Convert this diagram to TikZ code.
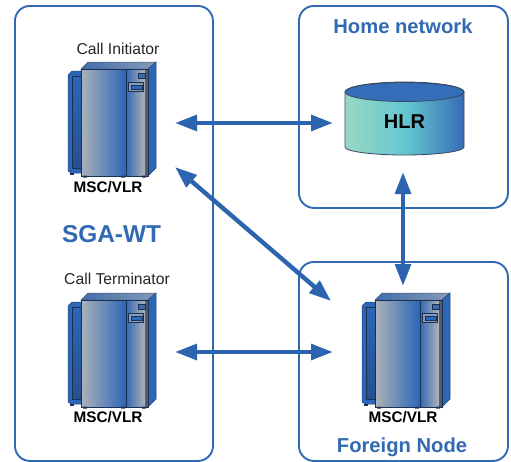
\documentclass[tikz,border=0pt]{standalone}
\usepackage{fontspec}
\setmainfont{Liberation Sans}
\usetikzlibrary{arrows.meta}
\definecolor{boxblue}{RGB}{50,106,178}
\definecolor{arrowblue}{RGB}{44,100,176}
\definecolor{srvblue}{RGB}{44,102,182}
\definecolor{srvgray}{RGB}{172,178,186}
\definecolor{srvdark}{RGB}{28,48,84}
\tikzset{
  x=1pt,y=-1pt,
  region/.style={draw=boxblue,line width=1.9pt,rounded corners=15pt,fill=white},
  title/.style={text=boxblue,font=\bfseries\fontsize{20.2}{24}\selectfont,inner sep=0pt},
  sgatitle/.style={text=boxblue,font=\bfseries\fontsize{24.4}{28}\selectfont,inner sep=0pt},
  role/.style={text=black!85,font=\fontsize{15.7}{18}\selectfont,inner sep=0pt},
  msc/.style={text=black,font=\bfseries\fontsize{15.3}{18}\selectfont,inner sep=0pt},
  hlrtext/.style={text=black,font=\bfseries\fontsize{20}{24}\selectfont,inner sep=0pt},
  link/.style={draw=arrowblue,line width=4.4pt,{Stealth[length=22pt,width=15.5pt,inset=0pt]}-{Stealth[length=22pt,width=15.5pt,inset=0pt]}},
  server/.pic={
    % rear cabinet
    \path[draw=srvblue!70!black,line width=.5pt,fill=srvblue] (0,2) -- (-9,2) -- (-13,6) -- (-13,102) -- (-10,104) -- (0,104) -- cycle;
    \path[draw=srvdark,line width=.5pt,top color=srvblue,bottom color=srvblue!60!srvdark] (-9,7) rectangle (0,99);
    \path[fill=srvdark] (-11,103.5) rectangle (-7,105.5);
    % top and side
    \path[draw=srvdark!80,line width=.5pt,left color=srvblue!75!gray,right color=srvgray!70!srvblue] (0,0) -- (7,-7) -- (75,-7) -- (67,0) -- cycle;
    \path[draw=srvblue!70!black,line width=.5pt,fill=srvblue] (67,0) -- (75,-7) -- (75,99) -- (67,107) -- cycle;
    % front
    \path[left color=srvgray,right color=srvblue,draw=srvdark,line width=.6pt] (0,0) rectangle (45,107);
    \path[left color=srvblue!90!gray,right color=srvgray] (45,0) rectangle (63.5,107);
    \path[fill=srvdark!45!gray] (63.5,0) rectangle (67,107);
    \path[draw=srvdark,line width=.8pt] (45,0) -- (45,107);
    \path[draw=srvdark,line width=.6pt] (45,0) rectangle (67,107);
    % door details
    \path[draw=srvdark,line width=.5pt,fill=srvblue!80!gray] (57,4) rectangle (64,9);
    \path[draw=srvdark,line width=.7pt,fill=srvgray!70!srvblue] (47,13) rectangle (62,22);
    \path[draw=srvdark,line width=.4pt,fill=srvblue] (50,16) rectangle (61,20);
    % feet
    \path[fill=srvdark] (2,106.5) rectangle (6,108.5) (40,106.5) rectangle (44,108.5) (61,106.5) rectangle (65,108.5);
  }
}
\begin{document}
\begin{tikzpicture}
\useasboundingbox (0,0) rectangle (511,461);
% regions
\node[region,minimum width=198pt,minimum height=455pt,anchor=north west] (sga) at (14,5) {};
\node[region,minimum width=209pt,minimum height=202pt,anchor=north west] (home) at (298,5) {};
\node[region,minimum width=209pt,minimum height=199pt,anchor=north west] (foreign) at (298,261) {};
% titles
\node[title] (hometitle) at (403,26.5) {Home network};
\node[title] (foreigntitle) at (402,447.5) {Foreign Node};
\node[sgatitle] (sgatitle) at (111.5,234) {SGA-WT};
\node[role] (initiator) at (118,48.5) {Call Initiator};
\node[role] (terminator) at (117,279) {Call Terminator};
% servers
\pic at (81,69) {server};
\pic at (81,300) {server};
\pic at (375,300) {server};
\node[msc] (msc1) at (108,187) {MSC/VLR};
\node[msc] (msc2) at (108,417) {MSC/VLR};
\node[msc] (msc3) at (403,417) {MSC/VLR};
% HLR
\path[draw=srvdark!70!gray,line width=.8pt,left color={rgb,255:red,152;green,216;blue,196},right color={rgb,255:red,56;green,108;blue,180},middle color={rgb,255:red,100;green,200;blue,208}]
  (345,92) -- (345,147) arc[start angle=180,end angle=360,x radius=59.5pt,y radius=8pt] -- (464,92) arc[start angle=0,end angle=180,x radius=59.5pt,y radius=10pt] -- cycle;
\path[draw=srvdark!70!gray,line width=.8pt,fill={rgb,255:red,52;green,110;blue,184}] (404.5,92) ellipse[x radius=59.5pt,y radius=9.5pt];
\node[hlrtext] (hlr) at (404.5,122) {HLR};
% connectors
\coordinate (a1) at (175,123);
\coordinate (a2) at (333,123);
\coordinate (b1) at (175,167);
\coordinate (b2) at (331,301);
\coordinate (c1) at (175,352);
\coordinate (c2) at (333,352);
\coordinate (d1) at (403,172);
\coordinate (d2) at (403,286);
\draw[link] (a1) -- (a2);
\draw[link] (b1) -- (b2);
\draw[link] (c1) -- (c2);
\draw[link] (d1) -- (d2);
\end{tikzpicture}
\end{document}
